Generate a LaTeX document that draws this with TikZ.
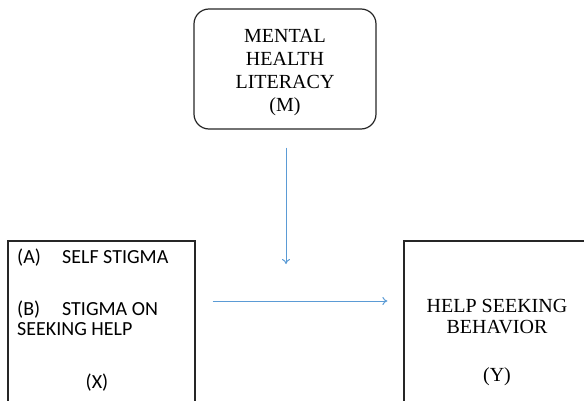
\documentclass[tikz,border=0pt]{standalone}
\usepackage{fontspec}
\setmainfont{Liberation Serif}
\newfontfamily\calibri{Carlito}
\usetikzlibrary{arrows.meta}
\definecolor{arrowblue}{HTML}{5B9BD5}

\begin{document}
\begin{tikzpicture}[x=1pt,y=-1pt,
	box/.style={draw=black!85, line width=1.2pt, inner sep=0pt},
	flow/.style={draw=arrowblue, line width=1pt, -{To[length=5pt,width=8pt]}},
	serif/.style={font=\fontsize{20}{23}\selectfont, align=center, inner sep=0pt},
	sans/.style={font=\calibri\fontsize{20}{24}\selectfont, inner sep=0pt, anchor=base west}]
	\def\W{584}
	\def\H{401}

	%画布
	\useasboundingbox (0,0) rectangle (\W,\H);
	\clip (0,0) rectangle (\W,\H);

	%方框
	\node [box, rounded corners=15pt, minimum width=182pt, minimum height=120pt] (M) at (285,69) {};
	\node [box, minimum width=187pt, minimum height=190pt] (X) at (101.5,336) {};
	\node [box, minimum width=188pt, minimum height=190pt] (Y) at (498,336) {};

	%文字
	\node [serif] (Mt) at (285,73) {MENTAL\\HEALTH\\LITERACY\\(M)};

	\node [sans] (xa) at (17,263) {\makebox[45pt][l]{(A)}SELF STIGMA};
	\node [sans] (xb) at (17,315) {\makebox[45pt][l]{(B)}STIGMA ON};
	\node [sans] (xc) at (17,335) {SEEKING HELP};
	\node [sans, anchor=base] (xx) at (97,388) {(X)};

	\node [serif, anchor=base] (ya) at (497,312) {HELP SEEKING};
	\node [serif, anchor=base] (yb) at (497,333) {BEHAVIOR};
	\node [serif, anchor=base] (yy) at (497,381) {(Y)};

	%箭头
	\coordinate (mid) at (286,264);
	\coordinate (row) at (0,301);
	\draw [flow, shorten <=18pt] (M.south -| mid) -- (mid);
	\draw [flow, shorten <=17pt, shorten >=16pt] (X.east |- row) -- (Y.west |- row);

\end{tikzpicture}
\end{document}
